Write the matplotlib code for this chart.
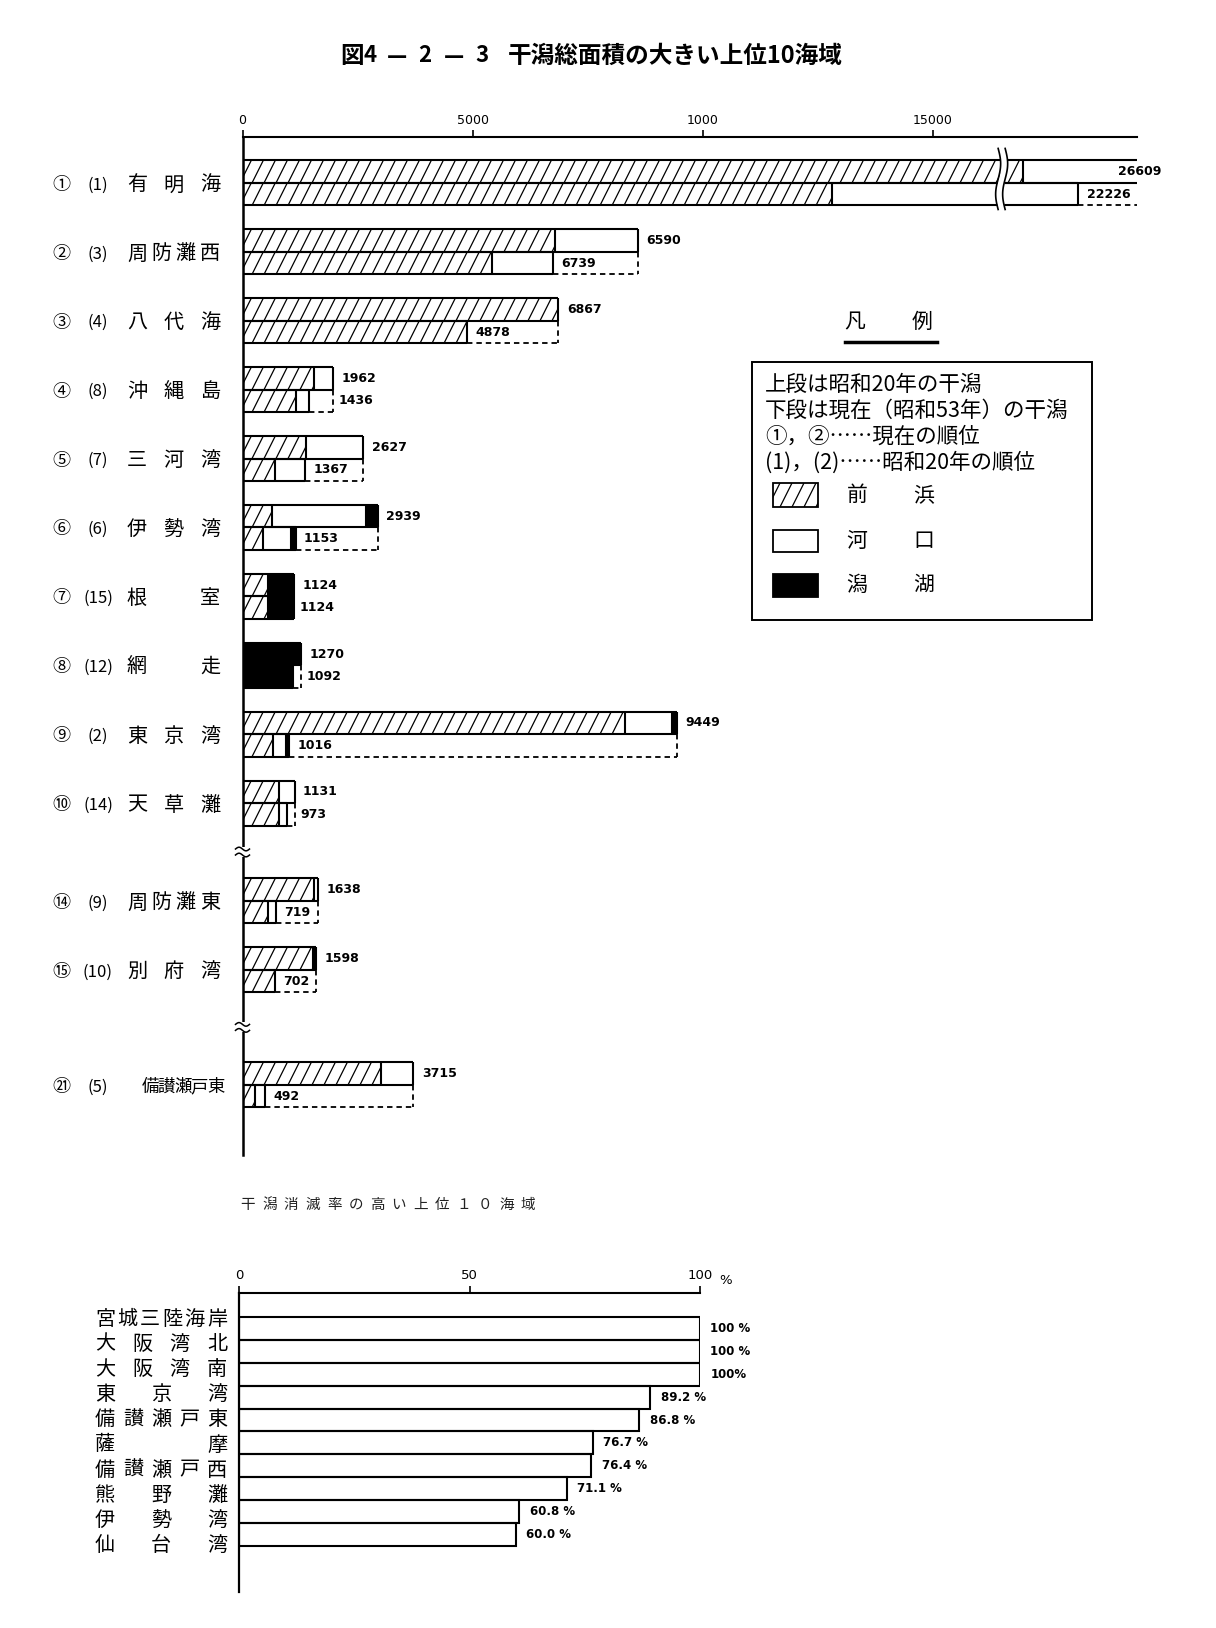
import numpy as np
import matplotlib
matplotlib.use('Agg')
import matplotlib.pyplot as plt
from matplotlib.patches import Rectangle
from matplotlib.collections import LineCollection
from matplotlib.transforms import IdentityTransform

plt.rcParams['font.family'] = ['Noto Sans CJK JP', 'DejaVu Sans']

# ---------------- data: top chart (ha) ----------------
areas = ['有明海', '周防灘西', '八代海', '沖縄島', '三河湾', '伊勢湾', '根室', '網走',
         '東京湾', '天草灘', '周防灘東', '別府湾', '備讃瀬戸東']
rank_now = ['①', '②', '③', '④', '⑤', '⑥', '⑦', '⑧', '⑨', '⑩', '⑭', '⑮', '㉑']
rank_1945 = ['(1)', '(3)', '(4)', '(8)', '(7)', '(6)', '(15)', '(12)', '(2)', '(14)', '(9)', '(10)', '(5)']
# 昭和20年 (upper bars)
s20_maehama = [18089, 6800, 6867, 1550, 1373, 634, 560, 0, 8315, 800, 1560, 1538, 3011]
s20_kako = [8520, 1790, 0, 412, 1254, 2060, 0, 0, 1030, 331, 78, 0, 704]
s20_sekiko = [0, 0, 0, 0, 0, 245, 564, 1270, 104, 0, 0, 60, 0]
# 昭和53年 (lower bars)
s53_maehama = [12804, 5420, 4878, 1160, 707, 453, 560, 0, 670, 790, 550, 702, 280]
s53_kako = [9422, 1319, 0, 276, 660, 600, 0, 0, 280, 183, 169, 0, 212]
s53_sekiko = [0, 0, 0, 0, 0, 100, 564, 1092, 66, 0, 0, 0, 0]
s20_label = ['26609', '6590', '6867', '1962', '2627', '2939', '1124', '1270', '9449', '1131', '1638', '1598', '3715']
s53_label = ['22226', '6739', '4878', '1436', '1367', '1153', '1124', '1092', '1016', '973', '719', '702', '492']
xticks = [0, 5000, 10000, 15000]
xtick_labels = ['0', '5000', '1000', '15000']

# ---------------- data: bottom chart (%) ----------------
loss_names = ['宮城三陸海岸', '大阪湾北', '大阪湾南', '東京湾', '備讃瀬戸東', '薩摩',
              '備讃瀬戸西', '熊野灘', '伊勢湾', '仙台湾']
loss_rate = [100, 100, 100, 89.2, 86.8, 76.7, 76.4, 71.1, 60.8, 60.0]
loss_label = ['100 %', '100 %', '100%', '89.2 %', '86.8 %', '76.7 %', '76.4 %', '71.1 %', '60.8 %', '60.0 %']
loss_ticks = [0, 50, 100]
loss_tick_labels = ['0', '50', '100']

# ---------------- figure ----------------
W, H = 1216, 1628
fig = plt.figure(figsize=(W / 100, H / 100), dpi=100)
fig.patch.set_facecolor('white')


def frac(l, t, r, b):
    return [l / W, 1 - b / H, (r - l) / W, (b - t) / H]


ov = fig.add_axes([0, 0, 1, 1], zorder=10)
ov.set_xlim(0, W)
ov.set_ylim(H, 0)
ov.set_axis_off()
ov.patch.set_alpha(0)


def px(a, x, y):
    d = a.transData.transform((x, y))
    return d[0], H - d[1]


def add_hatch(a, patch, xa, xb, ya, yb, step=12.0):
    pts = a.transData.transform([[xa, ya], [xb, yb]])
    X0, X1 = sorted([pts[0, 0], pts[1, 0]])
    Y0, Y1 = sorted([pts[0, 1], pts[1, 1]])
    hp = Y1 - Y0
    c = np.floor((X0 - hp / 2) / step) * step
    segs = []
    while c <= X1:
        segs.append([(c, Y0), (c + hp / 2, Y1)])
        c += step
    lc = LineCollection(segs, colors='black', linewidths=0.9,
                        transform=IdentityTransform(), zorder=2.5)
    a.add_collection(lc, autolim=False)
    lc.set_clip_path(patch)


# ---------------- top chart ----------------
n = len(areas)
tot20 = np.array(s20_maehama) + np.array(s20_kako) + np.array(s20_sekiko)
tot53 = np.array(s53_maehama) + np.array(s53_kako) + np.array(s53_sekiko)

ax = fig.add_axes(frac(242.5, 137, 1137, 1155))
BRK, KMP = 16500.0, 0.291


def fwd(x):
    x = np.asarray(x, float)
    return np.where(x <= BRK, x, BRK + (x - BRK) * KMP)


def inv(y):
    y = np.asarray(y, float)
    return np.where(y <= BRK, y, BRK + (y - BRK) / KMP)


ax.set_xscale('function', functions=(fwd, inv))
ax.set_xlim(0, tot20.max())
xmax = ax.get_xlim()[1]

rows = []
p = 0.0
for i in range(n):
    if i == 10:
        p += 0.42
    if i == 12:
        p += 0.67
    rows.append(p)
    p += 1.0
ax.set_ylim(14.107, -0.667)
BH = 0.327

ax.patch.set_alpha(0)
for s in ['right', 'bottom']:
    ax.spines[s].set_visible(False)
ax.spines['top'].set_linewidth(1.5)
ax.spines['left'].set_linewidth(1.8)
ax.xaxis.tick_top()
ax.set_xticks(xticks)
ax.set_xticklabels(xtick_labels, fontfamily='DejaVu Sans', fontsize=9)
ax.tick_params(axis='x', direction='out', length=5, width=1.2, pad=2.5)
ax.set_yticks([])

LW = 1.5
lab_kw = dict(textcoords='offset points', ha='left', va='center', fontsize=9,
              fontweight='bold', fontfamily='DejaVu Sans', annotation_clip=False)
for i in range(n):
    r = rows[i]
    for (y0, y1, segs) in [(r - BH, r, (s20_maehama[i], s20_kako[i], s20_sekiko[i])),
                           (r, r + BH, (s53_maehama[i], s53_kako[i], s53_sekiko[i]))]:
        left = 0.0
        bounds = [0.0]
        for val, face, hatched in zip(segs, ['white', 'white', 'black'], [True, False, False]):
            if val <= 0:
                continue
            pt = Rectangle((left, y0), val, y1 - y0, facecolor=face, edgecolor='none', zorder=2)
            ax.add_patch(pt)
            if hatched:
                add_hatch(ax, pt, left, left + val, y0, y1)
            left += val
            bounds.append(left)
        open_end = left >= xmax
        ax.hlines([y0, y1], 0, left, colors='k', lw=LW, zorder=3)
        ax.vlines(bounds[:-1] if open_end else bounds, y0, y1, colors='k', lw=LW, zorder=3)
    cur, old = tot53[i], tot20[i]
    if old > cur:
        ax.hlines(r + BH, cur, old, colors='k', lw=1.3, linestyles=(0, (3, 2.2)), zorder=3)
        if old < xmax:
            ax.vlines(old, r, r + BH, colors='k', lw=1.3, linestyles=(0, (3, 2.2)), zorder=3)
    # value labels
    if old >= xmax:
        ax.annotate(s20_label[i], (xmax, r - BH / 2), xytext=(-14, 0), **lab_kw)
    else:
        ax.annotate(s20_label[i], (old, r - BH / 2), xytext=(6, 0), **lab_kw)
    cur_px, _ = px(ax, cur, r)
    old_px, _ = px(ax, min(old, xmax), r)
    need = len(s53_label[i]) * 8.5 + 10
    if old_px - cur_px >= need:
        ax.annotate(s53_label[i], (cur, r + BH / 2), xytext=(6, 0), **lab_kw)
    else:
        ax.annotate(s53_label[i], (old, r + BH / 2), xytext=(4, 0), **lab_kw)

# break mark across the Ariake bars
xb, yt = px(ax, BRK, rows[0] - BH)
_, ybt = px(ax, BRK, rows[0] + BH)
yy = np.linspace(yt - 12, ybt + 4, 80)
wob = 2.5 * np.sin(2 * np.pi * (yy - yy[0]) / (yy[-1] - yy[0]))
ov.fill_betweenx(yy, xb - 3.5 + wob, xb + 3.5 + wob, color='white', zorder=5, lw=0)
ov.plot(xb - 3.5 + wob, yy, color='k', lw=1.2, zorder=6)
ov.plot(xb + 3.5 + wob, yy, color='k', lw=1.2, zorder=6)

# break marks on the left spine
for yb_data in [(rows[9] + rows[10]) / 2, (rows[11] + rows[12]) / 2]:
    sx, sy = px(ax, 0, yb_data)
    ov.add_patch(Rectangle((sx - 3, sy - 5), 6, 10, facecolor='white', edgecolor='none', zorder=5))
    tt = np.linspace(-7, 7, 30)
    for dy in (-3, 3):
        ov.plot(sx + tt, sy + dy + 1.8 * np.sin(tt / 7 * np.pi), color='k', lw=1.1, zorder=6)

# row labels
for i in range(n):
    _, yc = px(ax, 0, rows[i])
    yc += 2
    ov.text(61, yc, rank_now[i], ha='center', va='center', fontsize=13)
    ov.text(98, yc, rank_1945[i], ha='center', va='center', fontsize=12)
    name = areas[i]
    if len(name) >= 5:
        xs = np.linspace(150, 216, len(name))
        fs = 12.5
    else:
        xs = np.linspace(137, 210, len(name))
        fs = 14.5
    for ch, x in zip(name, xs):
        ov.text(x, yc, ch, ha='center', va='center', fontsize=fs)

# title
ov.text(352, 56, '図', fontsize=17, fontweight='bold', ha='center', va='center')
for x, s in [(370, '4'), (397, '—'), (425, '2'), (454, '—'), (482, '3')]:
    ov.text(x, 56, s, fontsize=16, fontweight='bold', ha='center', va='center')
ov.text(508, 56, '干潟総面積の大きい上位10海域', fontsize=17, fontweight='bold', ha='left', va='center')

# legend
ov.text(855, 322, '凡', fontsize=15, ha='center', va='center')
ov.text(922, 322, '例', fontsize=15, ha='center', va='center')
ov.plot([845, 937], [342, 342], color='k', lw=2.5)
ov.add_patch(Rectangle((752, 362), 340, 258, fill=False, edgecolor='k', lw=1.4))
for yl, s in [(385, '上段は昭和20年の干潟'), (411, '下段は現在（昭和53年）の干潟'),
              (437, '①，②……現在の順位'), (463, '(1)，(2)……昭和20年の順位')]:
    ov.text(765, yl, s, fontsize=15.5, ha='left', va='center')
sw1 = Rectangle((773, 483), 45, 24, facecolor='white', edgecolor='none', zorder=2)
ov.add_patch(sw1)
add_hatch(ov, sw1, 773, 818, 483, 507)
ov.add_patch(Rectangle((773, 483), 45, 24, fill=False, edgecolor='k', lw=1.3, zorder=3))
ov.add_patch(Rectangle((773, 530), 45, 22, facecolor='white', edgecolor='k', lw=1.3))
ov.add_patch(Rectangle((773, 574), 45, 23, facecolor='black', edgecolor='k', lw=1.3))
for yl, a, b in [(495, '前', '浜'), (541, '河', '口'), (585, '潟', '湖')]:
    ov.text(857, yl, a, fontsize=15, ha='center', va='center')
    ov.text(924, yl, b, fontsize=15, ha='center', va='center')

# ---------------- bottom chart ----------------
sub = '干潟消滅率の高い上位１０海域'
for ch, x in zip(sub, np.linspace(248, 528, len(sub))):
    ov.text(x, 1205, ch, fontsize=10.5, ha='center', va='center', color='#222222')

ax2 = fig.add_axes(frac(239, 1293, 700, 1592))
ax2.set_xlim(0, 100)
ax2.set_ylim(12.01, -1.048)
ax2.patch.set_alpha(0)
m = len(loss_rate)
ax2.barh(np.arange(m), loss_rate, height=1.0, align='edge', facecolor='none',
         edgecolor='k', lw=1.5)
for s in ['right', 'bottom']:
    ax2.spines[s].set_visible(False)
ax2.spines['top'].set_linewidth(1.5)
ax2.spines['left'].set_linewidth(1.6)
ax2.xaxis.tick_top()
ax2.set_xticks(loss_ticks)
ax2.set_xticklabels(loss_tick_labels, fontfamily='DejaVu Sans', fontsize=9.5)
ax2.tick_params(axis='x', direction='out', length=5, width=1.2, pad=3)
ax2.set_yticks([])
ax2.annotate('%', (100, -1.048), xytext=(14, 9), textcoords='offset points', ha='left',
             va='center', fontsize=9.5, fontfamily='DejaVu Sans', annotation_clip=False)
for i in range(m):
    ax2.annotate(loss_label[i], (loss_rate[i], i + 0.5), xytext=(7.5, 0), textcoords='offset points',
                 ha='left', va='center', fontsize=8.5, fontweight='bold',
                 fontfamily='DejaVu Sans', annotation_clip=False)
    _, yc = px(ax2, 0, 0.09 + 1.1 * i)
    name = loss_names[i]
    for ch, x in zip(name, np.linspace(105, 217, len(name))):
        ov.text(x, yc, ch, ha='center', va='center', fontsize=14.5)

fig.savefig('out.png', dpi=100, facecolor='white')
